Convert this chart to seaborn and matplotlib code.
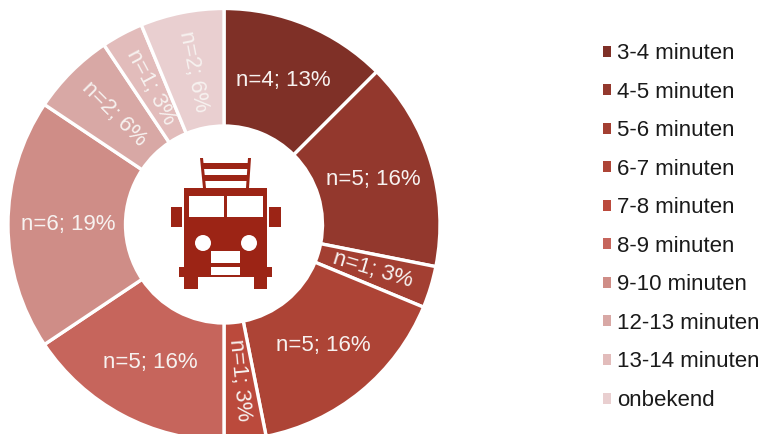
import math
import matplotlib
matplotlib.use('Agg')
import matplotlib.pyplot as plt
from matplotlib.patches import Rectangle, Circle, Polygon, Patch
import seaborn as sns

# data
categories = ['3-4 minuten', '4-5 minuten', '5-6 minuten', '6-7 minuten', '7-8 minuten',
              '8-9 minuten', '9-10 minuten', '12-13 minuten', '13-14 minuten', 'onbekend']
counts = [4, 5, 1, 5, 1, 5, 6, 2, 1, 2]
percents = [13, 16, 3, 16, 3, 16, 19, 6, 3, 6]
colors = ['#7f3027', '#93382d', '#a33f32', '#ad4436', '#bb4a3c',
          '#c6655c', '#cf8d87', '#d8a8a5', '#e2bcbb', '#e9cfd0']

sns.set_theme(style='white')
plt.rcParams['font.family'] = ['Liberation Sans', 'DejaVu Sans']

W, H = 763, 434
TRUCK = '#9c2415'
palette = sns.color_palette(colors)

fig = plt.figure(figsize=(W / 100, H / 100), dpi=100)
ax = fig.add_axes([0, 0, 1, 1])

# ring, axes in pixels (y up)
cx, cy, r_out, r_in = 224, H - 224.5, 216, 98.5
wedges, _ = ax.pie(counts, colors=palette, startangle=90, counterclock=False,
                   center=(cx, cy), radius=r_out, frame=False,
                   wedgeprops=dict(width=r_out - r_in, edgecolor='white', linewidth=2.4))
ax.set_xlim(0, W)
ax.set_ylim(0, H)
ax.set_aspect('equal')
ax.axis('off')

# slice labels, the thin slices have theirs along the radius
for w, n, p in zip(wedges, counts, percents):
    mid = (w.theta1 + w.theta2) / 2
    x = cx + 156 * math.cos(math.radians(mid))
    y = cy + 156 * math.sin(math.radians(mid))
    rot = 0
    if n <= 2:
        rot = mid % 180
        if rot > 90:
            rot -= 180
    ax.text(x, y, f'n={n}; {p}%', ha='center', va='center', rotation=rot,
            rotation_mode='anchor', fontsize=16, color='#f7f2f0')

handles = [Patch(facecolor=c, edgecolor='none') for c in palette]
ax.legend(handles, categories, loc='upper left', bbox_to_anchor=(603 / W, 1 - 43 / H),
          frameon=False, fontsize=16, handlelength=0.38, handleheight=0.38,
          handletextpad=0.26, labelspacing=0.79, borderpad=0, borderaxespad=0,
          labelcolor='#1a1a1a')

# truck icon, own overlay with y down
ic = fig.add_axes([0, 0, 1, 1])
ic.set_xlim(0, W)
ic.set_ylim(H, 0)
ic.axis('off')
ic.patch.set_alpha(0)


def box(x0, y0, x1, y1, color=TRUCK):
    ic.add_patch(Rectangle((x0, y0), x1 - x0, y1 - y0, facecolor=color, edgecolor='none'))


box(184, 188, 267, 267)
box(179, 267, 272, 277)
box(184, 277, 198, 289)
box(254, 277, 267, 289)
box(171, 207, 182, 227)
box(269, 207, 281, 227)
box(189, 196, 224, 217, 'white')
box(227, 196, 263, 217, 'white')
box(211, 251, 240, 263, 'white')
box(211, 267, 240, 275, 'white')
ic.add_patch(Circle((203, 243), 8, facecolor='white', edgecolor='none'))
ic.add_patch(Circle((249, 243), 8, facecolor='white', edgecolor='none'))
# ladder
ic.add_patch(Polygon([(200, 158), (203, 158), (206, 188), (203, 188)], facecolor=TRUCK, edgecolor='none'))
ic.add_patch(Polygon([(248, 158), (251, 158), (249, 188), (246, 188)], facecolor=TRUCK, edgecolor='none'))
box(203, 163, 248, 169)
box(204, 175, 247, 181)

fig.savefig('out.png', dpi=100, facecolor='white')
